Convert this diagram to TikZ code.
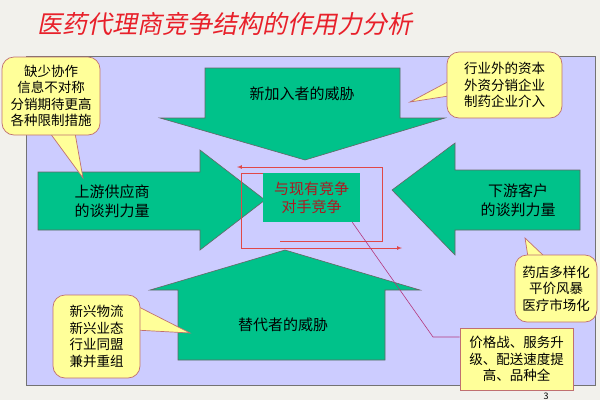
\documentclass[tikz,border=0pt]{standalone}
\usepackage{fontspec}
\setmainfont{Noto Sans CJK SC}
\newfontfamily\titlefont[FakeSlant=0.2]{Noto Sans CJK SC}
\definecolor{PageGray}{HTML}{F2F1EC}
\definecolor{Lavender}{HTML}{CCCCFF}
\definecolor{SeaGreen}{HTML}{00C28A}
\definecolor{NoteYellow}{HTML}{FFFF99}
\definecolor{NoteBorder}{HTML}{C07070}
\definecolor{TitleRed}{HTML}{E8202A}
\definecolor{LineRed}{HTML}{E04848}

\begin{document}
\begin{tikzpicture}[x=1pt, y=-1pt, every node/.style={font=\fontsize{13.5}{16.5}\selectfont}]
\tikzset{
  block/.style={fill=SeaGreen, draw=black!60, line width=0.6pt},
  note/.style={fill=NoteYellow, draw=NoteBorder, line width=0.7pt},
  callout/.style={note, rounded corners=12pt, align=center, inner sep=0pt},
  redline/.style={draw=LineRed, line width=0.7pt}
}
% Page
\fill[PageGray] (0,0) rectangle (600,400);
\useasboundingbox (0,0) rectangle (600,400);
\draw[fill=Lavender, draw=black!55, line width=0.8pt] (26,56) rectangle (595,385);

% Title
\node[anchor=west, text=TitleRed, font=\titlefont\fontsize{25}{27}\selectfont] (title) at (34,24) {医药代理商竞争结构的作用力分析};

% Forces
\draw[block] (205,68) -- (400,68) -- (400,118) -- (445,118) -- (305,160) -- (160,118) -- (205,118) -- cycle;
\node[font=\fontsize{15}{18}\selectfont] (entrants) at (302,94) {新加入者的威胁};

\draw[block] (178,360) -- (385,360) -- (385,290) -- (420,290) -- (285,250) -- (150,290) -- (178,290) -- cycle;
\node[font=\fontsize{15}{18}\selectfont] (substitutes) at (283,325) {替代者的威胁};

\draw[block] (38,172) -- (200,172) -- (200,150) -- (265,200) -- (200,250) -- (200,230) -- (38,230) -- cycle;
\node[align=center, font=\fontsize{15}{19}\selectfont] (suppliers) at (112,201) {上游供应商\\的谈判力量};

\draw[block] (580,170) -- (455,170) -- (455,143) -- (392,190) -- (455,255) -- (455,230) -- (580,230) -- cycle;
\node[align=center, font=\fontsize{15}{19}\selectfont] (buyers) at (518,200) {下游客户\\的谈判力量};

% Rivalry
\draw[redline] (241,173) -- (343,173);
\node[block, draw=none, minimum width=97pt, minimum height=49pt, align=center, text=TitleRed!75!black, font=\fontsize{15}{18}\selectfont] (rivalry) at (311.5,197.5) {与现有竞争\\对手竞争};
\draw[redline, -latex] (382,167) -- (237,167);
\draw[redline] (382,167) -- (382,241) -- (280,241);
\draw[redline, -latex] (241,173) -- (241,248) -- (402,248);

% Notes
\fill[note] (50,133) -- (83,178) -- (75,133) -- cycle;
\node[callout, minimum width=98pt, minimum height=78pt] (noteSup) at (51,96) {缺少协作\\信息不对称\\分销期待更高\\各种限制措施};

\fill[note] (455,78) -- (410,102) -- (455,95) -- cycle;
\node[callout, minimum width=115pt, minimum height=66pt] (noteEnt) at (504.5,85) {行业外的资本\\外资分销企业\\制药企业介入};

\fill[note] (528,257) -- (525,238) -- (545,257) -- cycle;
\node[callout, minimum width=82pt, minimum height=67pt] (noteBuy) at (556,288.5) {药店多样化\\平价风暴\\医疗市场化};

\fill[note] (135,305) -- (190,333) -- (135,330) -- cycle;
\node[callout, minimum width=87pt, minimum height=83pt] (noteSub) at (96.5,336.5) {新兴物流\\新兴业态\\行业同盟\\兼并重组};

\node[note, minimum width=113pt, minimum height=62pt, align=center, inner sep=0pt] (noteRiv) at (516.5,359) {价格战、服务升\\级、配送速度提\\高、品种全};
\draw[magenta!70!black, line width=0.6pt] (rivalry.south east) ++(-8,0) -- (433,337) -- (noteRiv.west |- 0,337);

\node[font=\fontsize{9}{10}\selectfont] (page) at (546,396) {3};
\end{tikzpicture}
\end{document}
